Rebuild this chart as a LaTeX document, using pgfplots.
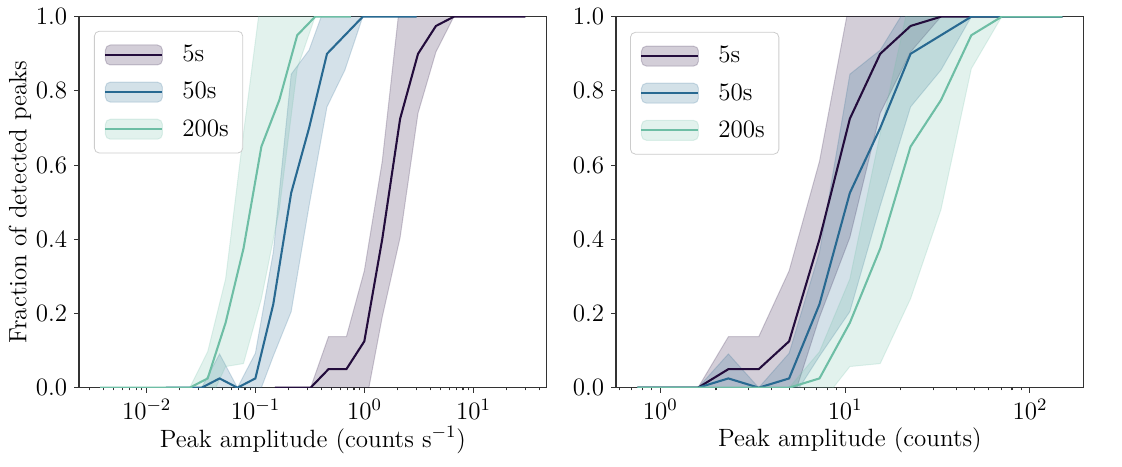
\documentclass[border=0pt]{standalone}
\usepackage{fix-cm}
\usepackage{pgfplots}
\pgfplotsset{compat=1.18}
\usepackage{pgfplotstable}
\usepgfplotslibrary{fillbetween}

\definecolor{cA}{RGB}{35,12,60}
\definecolor{cB}{RGB}{40,105,145}
\definecolor{cC}{RGB}{110,190,165}

% c = counts, r = counts per second, m = mean fraction, lo/hi = band
\pgfplotstableread{
c r m lo hi
0.75 0.15 0 0 0
1.0950 0.2190 0 0 0
1.5987 0.31974 0 0 0
2.3340 0.4668 0.05 -0.0375 0.1375
3.4074 0.68148 0.05 -0.0375 0.1375
4.9747 0.99494 0.125 -0.065 0.315
7.2628 1.45256 0.4 0.19 0.61
10.605 2.121 0.725 0.405 1.045
15.480 3.096 0.9 0.74 1.06
22.604 4.5208 0.975 0.905 1.045
33.00 6.600 1 1 1
48.18 9.636 1 1 1
70.35 14.07 1 1 1
102.7 20.54 1 1 1
150.0 30.0 1 1 1
}\tabA

\pgfplotstableread{
c r m lo hi
0.75 0.015 0 0 0
1.0950 0.0219 0 0 0
1.5987 0.031974 0 0 0
2.3340 0.04668 0.025 -0.041 0.091
3.4074 0.068148 0 0 0
4.9747 0.099494 0.025 -0.043 0.093
7.2628 0.145256 0.225 0.085 0.365
10.605 0.2121 0.525 0.205 0.845
15.480 0.3096 0.7 0.49 0.91
22.604 0.45208 0.9 0.757 1.043
33.00 0.66 0.95 0.856 1.044
48.18 0.9636 1 1 1
70.35 1.407 1 1 1
102.7 2.054 1 1 1
150.0 3.0 1 1 1
}\tabB

\pgfplotstableread{
c r m lo hi
0.75 0.00375 0 0 0
1.0950 0.005475 0 0 0
1.5987 0.0079935 0 0 0
2.3340 0.01167 0 0 0
3.4074 0.017037 0 0 0
4.9747 0.0248735 0 0 0
7.2628 0.036314 0.025 -0.047 0.097
10.605 0.053025 0.175 0.057 0.293
15.480 0.0774 0.375 0.065 0.685
22.604 0.11302 0.65 0.24 1.06
33.00 0.165 0.775 0.48 1.07
48.18 0.2409 0.95 0.86 1.04
70.35 0.35175 1 1 1
102.7 0.5135 1 1 1
150.0 0.75 1 1 1
}\tabC

\newcommand{\legimg}[1]{\addlegendimage{legend image code/.code={%
  \path[draw=none, fill=none] (0pt,0pt) rectangle (36.5pt,0pt);
  \draw[fill=#1, fill opacity=0.2, draw=#1, draw opacity=0.2, line width=0.5pt] (0pt,-5pt) rectangle (28.5pt,5pt);
  \draw[#1, line width=1.04pt] (0pt,0pt) -- (28.5pt,0pt);}}}

\begin{document}
\begin{tikzpicture}[font=\fontsize{12.5}{15}\selectfont]
\path (0,0) rectangle (561pt,233pt);

\begin{axis}[at={(39.5pt,39.15pt)}, anchor=south west,
  scale only axis, width=233.85pt, height=185.5pt,
  xmode=log, ymin=0, ymax=1,
  xmin=0.002393, xmax=46.99,
  ytick={0,0.2,0.4,0.6,0.8,1},
  yticklabel style={/pgf/number format/.cd, fixed, fixed zerofill, precision=1},
  tick align=outside, xtick pos=left, ytick pos=left,
  major tick length=2.43pt, minor tick length=1.39pt,
  every tick/.style={black!80, line width=0.56pt},
  axis line style={black!80, line width=0.56pt},
  xlabel={Peak amplitude (counts s$^{-1}$)},
  ylabel={Fraction of detected peaks},
  xlabel style={at={(axis description cs:0.5,-0.141)}, anchor=center},
  ylabel style={at={(axis description cs:-0.126,0.5)}, anchor=center},
  legend cell align=left,
  legend style={at={(0.032,0.962)}, anchor=north west, draw=black!20,
    rounded corners=2.5pt, fill=white, fill opacity=0.8, text opacity=1,
    inner xsep=5pt, inner ysep=5pt, row sep=4.75pt}]
\legimg{cA}\addlegendentry{5s}
\legimg{cB}\addlegendentry{50s}
\legimg{cC}\addlegendentry{200s}

\addplot[cA, line width=1.04pt, forget plot] table[x=r,y=m]{\tabA};
\addplot[name path=LAu, draw=none, forget plot] table[x=r,y=hi]{\tabA};
\addplot[name path=LAl, draw=none, forget plot] table[x=r,y=lo]{\tabA};
\addplot[fill=cA, fill opacity=0.2, draw=cA, draw opacity=0.2, line width=0.5pt, forget plot] fill between[of=LAu and LAl];

\addplot[cB, line width=1.04pt, forget plot] table[x=r,y=m]{\tabB};
\addplot[name path=LBu, draw=none, forget plot] table[x=r,y=hi]{\tabB};
\addplot[name path=LBl, draw=none, forget plot] table[x=r,y=lo]{\tabB};
\addplot[fill=cB, fill opacity=0.2, draw=cB, draw opacity=0.2, line width=0.5pt, forget plot] fill between[of=LBu and LBl];

\addplot[cC, line width=1.04pt, forget plot] table[x=r,y=m]{\tabC};
\addplot[name path=LCu, draw=none, forget plot] table[x=r,y=hi]{\tabC};
\addplot[name path=LCl, draw=none, forget plot] table[x=r,y=lo]{\tabC};
\addplot[fill=cC, fill opacity=0.2, draw=cC, draw opacity=0.2, line width=0.5pt, forget plot] fill between[of=LCu and LCl];
\end{axis}

\begin{axis}[at={(308pt,39.15pt)}, anchor=south west,
  scale only axis, width=233.85pt, height=185.5pt,
  xmode=log, ymin=0, ymax=1,
  xmin=0.5754, xmax=195.5,
  ytick={0,0.2,0.4,0.6,0.8,1},
  yticklabel style={/pgf/number format/.cd, fixed, fixed zerofill, precision=1},
  tick align=outside, xtick pos=left, ytick pos=left,
  major tick length=2.43pt, minor tick length=1.39pt,
  every tick/.style={black!80, line width=0.56pt},
  axis line style={black!80, line width=0.56pt},
  xlabel={Peak amplitude (counts)},
  xlabel style={at={(axis description cs:0.5,-0.141)}, anchor=center},
  legend cell align=left,
  legend style={at={(0.030,0.959)}, anchor=north west, draw=black!20,
    rounded corners=2.5pt, fill=white, fill opacity=0.8, text opacity=1,
    inner xsep=5pt, inner ysep=5pt, row sep=4.75pt}]
\legimg{cA}\addlegendentry{5s}
\legimg{cB}\addlegendentry{50s}
\legimg{cC}\addlegendentry{200s}

\addplot[cA, line width=1.04pt, forget plot] table[x=c,y=m]{\tabA};
\addplot[name path=RAu, draw=none, forget plot] table[x=c,y=hi]{\tabA};
\addplot[name path=RAl, draw=none, forget plot] table[x=c,y=lo]{\tabA};
\addplot[fill=cA, fill opacity=0.2, draw=cA, draw opacity=0.2, line width=0.5pt, forget plot] fill between[of=RAu and RAl];

\addplot[cB, line width=1.04pt, forget plot] table[x=c,y=m]{\tabB};
\addplot[name path=RBu, draw=none, forget plot] table[x=c,y=hi]{\tabB};
\addplot[name path=RBl, draw=none, forget plot] table[x=c,y=lo]{\tabB};
\addplot[fill=cB, fill opacity=0.2, draw=cB, draw opacity=0.2, line width=0.5pt, forget plot] fill between[of=RBu and RBl];

\addplot[cC, line width=1.04pt, forget plot] table[x=c,y=m]{\tabC};
\addplot[name path=RCu, draw=none, forget plot] table[x=c,y=hi]{\tabC};
\addplot[name path=RCl, draw=none, forget plot] table[x=c,y=lo]{\tabC};
\addplot[fill=cC, fill opacity=0.2, draw=cC, draw opacity=0.2, line width=0.5pt, forget plot] fill between[of=RCu and RCl];
\end{axis}
\end{tikzpicture}
\end{document}
